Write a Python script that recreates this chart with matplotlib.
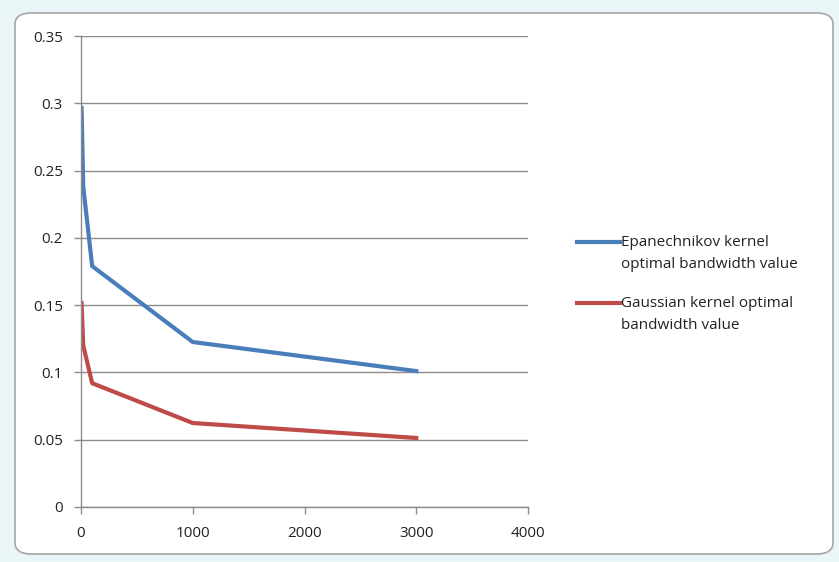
import matplotlib.pyplot as plt
from matplotlib.patches import FancyBboxPatch
from matplotlib.lines import Line2D

plt.rcParams['font.family'] = ['Open Sans', 'DejaVu Sans']

# sample sizes and optimal bandwidths
n_samples = [5, 20, 100, 1000, 3000]
epan_bw = [0.2965, 0.238, 0.179, 0.1226, 0.101]
gauss_bw = [0.1516, 0.120, 0.092, 0.0624, 0.0513]

x_ticks = [0, 1000, 2000, 3000, 4000]
y_ticks = [0, 0.05, 0.1, 0.15, 0.2, 0.25, 0.3, 0.35]
y_labels = ['0', '0.05', '0.1', '0.15', '0.2', '0.25', '0.3', '0.35']

fig = plt.figure(figsize=(8.39, 5.62), dpi=100, facecolor='#e9f5f6')

# white chart area with a rounded grey border
frame = FancyBboxPatch((15 / 839, 8 / 562), 818 / 839, 541 / 562,
                       boxstyle='round,pad=0,rounding_size=0.02',
                       transform=fig.transFigure, facecolor='white',
                       edgecolor='#a6a6a6', linewidth=1.2, zorder=-5)
fig.patches.append(frame)

ax = fig.add_axes([81 / 839, 1 - 507 / 562, 447 / 839, 471 / 562])
ax.set_facecolor('none')

series = [
    (epan_bw, '#4a7ebb', 'Epanechnikov kernel\noptimal bandwidth value'),
    (gauss_bw, '#be4b48', 'Gaussian kernel optimal\nbandwidth value'),
]
for vals, col, lab in series:
    ax.plot(n_samples, vals, color=col, linewidth=3, label=lab)

ax.set_xlim(0, 4000)
ax.set_ylim(0, 0.35)
ax.set_xticks(x_ticks)
ax.set_xticklabels([str(t) for t in x_ticks])
ax.set_yticks(y_ticks)
ax.set_yticklabels(y_labels)
ax.grid(axis='y', color='#8c8c8c', linewidth=1)
ax.set_axisbelow(True)

for side in ['top', 'right']:
    ax.spines[side].set_visible(False)
for side in ['left', 'bottom']:
    ax.spines[side].set_color('#8c8c8c')
    ax.spines[side].set_linewidth(1)

ax.tick_params(axis='both', colors='#8c8c8c', labelcolor='#222222',
               labelsize=11, length=5, width=1)
ax.tick_params(axis='x', pad=9)
ax.tick_params(axis='y', pad=8)

# legend: short line next to the first text line of each entry
for i, (vals, col, lab) in enumerate(series):
    y = 1 - (242 + 61 * i) / 562
    fig.add_artist(Line2D([577 / 839, 620 / 839], [y, y], color=col,
                          linewidth=3, transform=fig.transFigure))
    fig.text(621 / 839, y + 7 / 562, lab, fontsize=11, color='#222222',
             va='top', ha='left', linespacing=1.65)

plt.savefig('out.png', dpi=100, facecolor=fig.get_facecolor())
